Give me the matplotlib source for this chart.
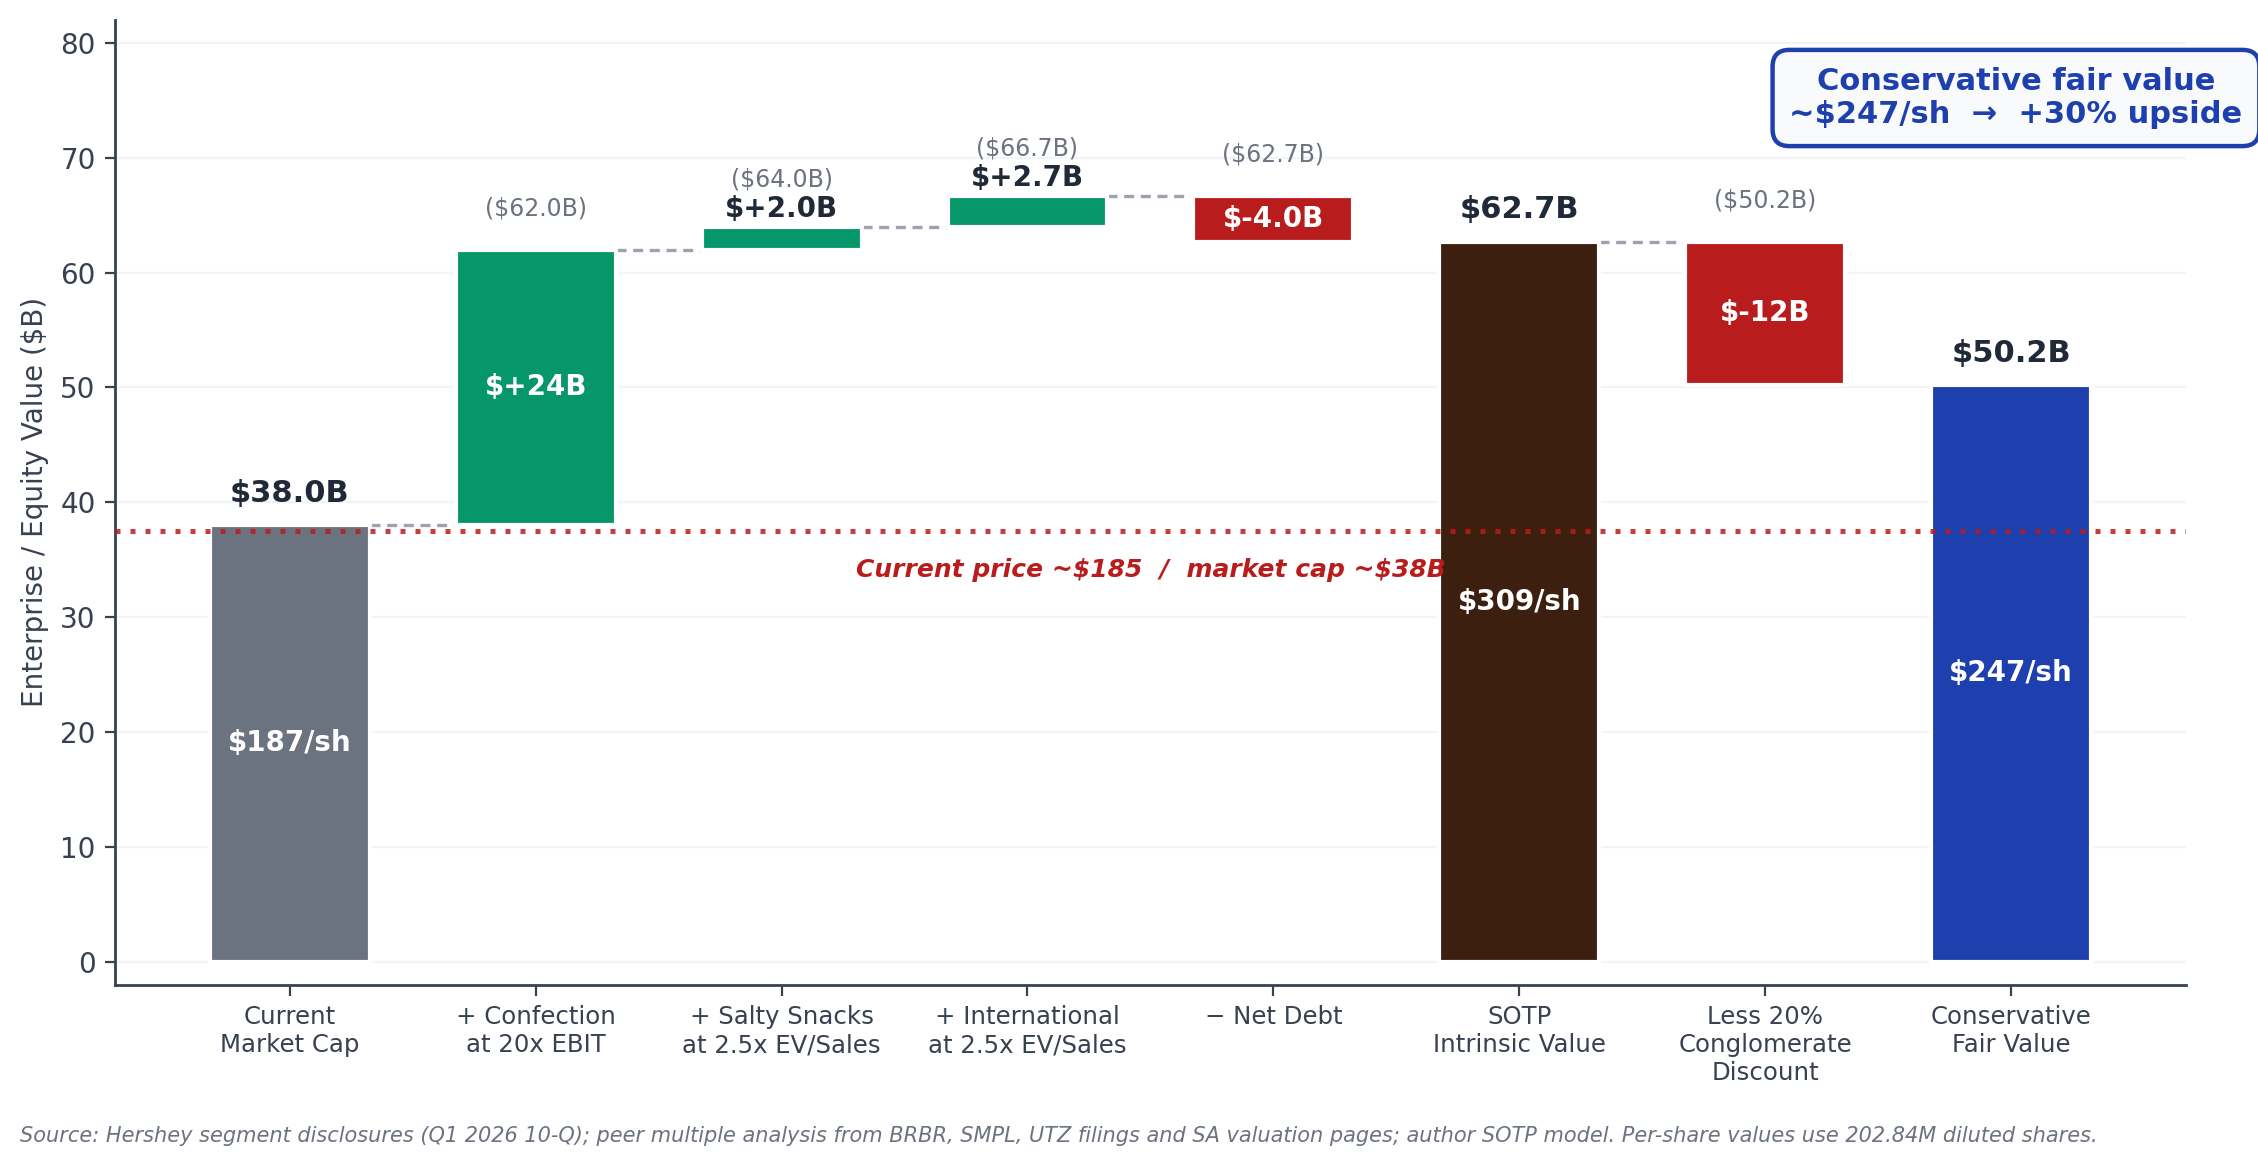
import numpy as np
import matplotlib
matplotlib.use("Agg")
import matplotlib.pyplot as plt

# ---- data ($B) ----
labels = ["Current\nMarket Cap", "+ Confection\nat 20x EBIT", "+ Salty Snacks\nat 2.5x EV/Sales",
          "+ International\nat 2.5x EV/Sales", "\u2212 Net Debt", "SOTP\nIntrinsic Value",
          "Less 20%\nConglomerate\nDiscount", "Conservative\nFair Value"]
kinds = ["total", "delta", "delta", "delta", "delta", "total", "delta", "total"]
values = [38.0, 24.0, 2.0, 2.7, -4.0, 62.7, -12.5, 50.2]
per_share = ["$187/sh", None, None, None, None, "$309/sh", None, "$247/sh"]
total_colors = ["#6b7280", None, None, None, None, "#3d1f10", None, "#1e40af"]
connect_after = [0, 1, 2, 3, 5]   # dashed links to next bar
price_line = 37.5

GREEN, RED = "#059669", "#b91c1c"
DARK, GREY = "#1f2937", "#6b7280"

fig = plt.figure(figsize=(11.29, 5.84), dpi=200)
ax = fig.add_axes([0.051, 0.157, 0.917, 0.826])

w = 0.65
x = np.arange(len(values))
running = 0.0
levels = []
for i, (k, v) in enumerate(zip(kinds, values)):
    if k == "total":
        bottom, height, col = 0, v, total_colors[i]
        running = v
    else:
        bottom = running if v > 0 else running + v
        height, col = abs(v), (GREEN if v > 0 else RED)
        running = running + v
    ax.bar(x[i], height, bottom=bottom, width=w, color=col, edgecolor="white",
           linewidth=1.5, zorder=3)
    top = bottom + height
    levels.append(running)
    if k == "total":
        ax.text(x[i], top + 2.75, f"${v:.1f}B", ha="center", va="center",
                fontsize=11, fontweight="bold", color=DARK, zorder=5)
        ax.text(x[i], v / 2, per_share[i], ha="center", va="center",
                fontsize=10, fontweight="bold", color="white", zorder=5)
    else:
        txt = f"${v:+.0f}B" if abs(v) >= 10 else f"${v:+.1f}B"
        if height >= 3:
            ax.text(x[i], bottom + height / 2, txt, ha="center", va="center",
                    fontsize=10, fontweight="bold", color="white", zorder=5)
            ax.text(x[i], top + 3.6, f"(${running:.1f}B)", ha="center", va="center",
                    fontsize=8.5, color=GREY, zorder=4)
        else:
            # small step: value label above the bar, running total just above it
            ax.text(x[i], top + 1.5, txt, ha="center", va="center",
                    fontsize=10, fontweight="bold", color=DARK, zorder=5)
            ax.text(x[i], top + 4.1, f"(${running:.1f}B)", ha="center", va="center",
                    fontsize=8.5, color=GREY, zorder=4)

for i in connect_after:
    ax.plot([x[i] + w / 2, x[i + 1] - w / 2], [levels[i], levels[i]],
            color="#9ca3af", lw=1.2, ls=(0, (3, 2)), zorder=2)

ax.axhline(price_line, color=RED, lw=1.8, ls=(0, (1, 2)), alpha=0.85, zorder=4)
ax.text(3.5, 34.1, "Current price ~\\$185  /  market cap ~\\$38B", ha="center", va="center",
        fontsize=9, fontweight="bold", fontstyle="italic", color=RED, zorder=5)

ax.text(0.918, 0.919, "Conservative fair value\n~$247/sh  \u2192  +30% upside",
        transform=ax.transAxes, ha="center", va="center", multialignment="center",
        fontsize=11, fontweight="bold", color="#1e40af", zorder=6, clip_on=False,
        bbox=dict(boxstyle="round,pad=0.55", fc="#f8fafc", ec="#1e40af", lw=1.6))

ax.set_xticks(x)
ax.set_xticklabels(labels, fontsize=8.8, color="#374151")
ax.set_xlim(-0.71, 7.71)
ax.set_ylim(-2, 82)
ax.set_yticks(np.arange(0, 81, 10))
ax.tick_params(axis="y", labelsize=10, colors="#374151")
ax.tick_params(axis="x", colors="#374151", length=4)
ax.set_ylabel("Enterprise / Equity Value ($B)", fontsize=10, color="#374151")
ax.grid(axis="y", color="#f3f4f6", lw=0.8, zorder=0)
ax.set_axisbelow(True)
for s in ["top", "right"]:
    ax.spines[s].set_visible(False)
for s in ["left", "bottom"]:
    ax.spines[s].set_color("#374151")
    ax.spines[s].set_linewidth(1.0)

fig.text(0.009, 0.027, "Source: Hershey segment disclosures (Q1 2026 10-Q); peer multiple analysis from BRBR, "
         "SMPL, UTZ filings and SA valuation pages; author SOTP model. Per-share values use 202.84M diluted shares.",
         fontsize=7.5, fontstyle="italic", color=GREY, ha="left", va="center")

fig.savefig("out.png", dpi=200)
